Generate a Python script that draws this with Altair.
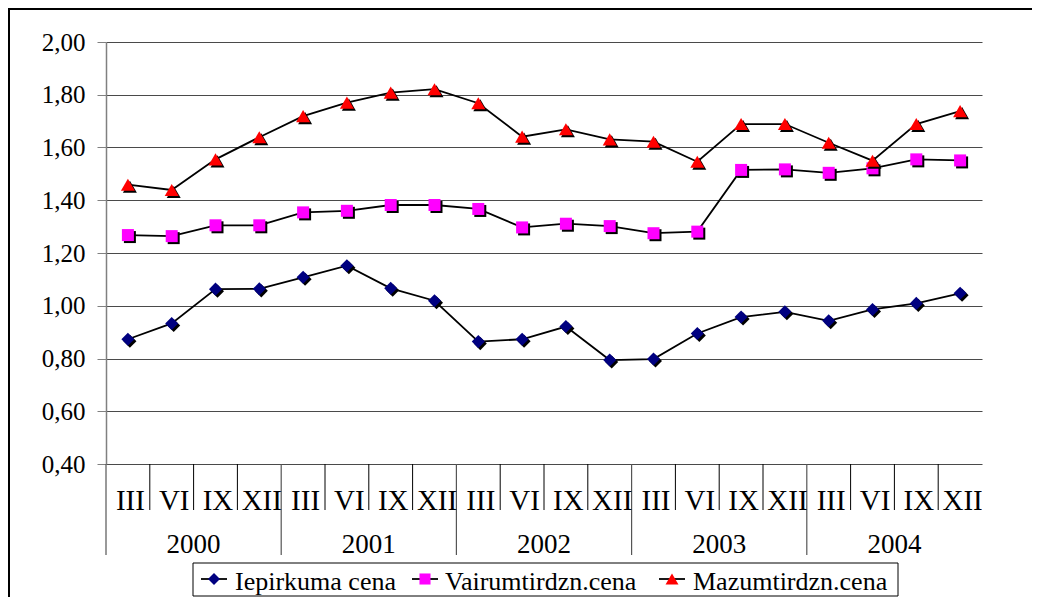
import altair as alt
import pandas as pd

years = ["2000", "2001", "2002", "2003", "2004"]
quarters = ["III", "VI", "IX", "XII"]
series_names = ["Iepirkuma cena", "Vairumtirdzn.cena", "Mazumtirdzn.cena"]

iepirkuma = [0.873, 0.933, 1.063, 1.064, 1.108, 1.152, 1.066, 1.019,
             0.864, 0.873, 0.921, 0.794, 0.798, 0.895, 0.957, 0.977,
             0.943, 0.986, 1.009, 1.047]
vairumtirdzn = [1.268, 1.264, 1.305, 1.305, 1.354, 1.360, 1.382, 1.382,
                1.367, 1.297, 1.311, 1.302, 1.275, 1.281, 1.515, 1.517,
                1.504, 1.521, 1.555, 1.551]
mazumtirdzn = [1.459, 1.439, 1.555, 1.639, 1.719, 1.770, 1.808, 1.821,
               1.768, 1.641, 1.669, 1.631, 1.622, 1.546, 1.689, 1.689,
               1.618, 1.550, 1.689, 1.738]

y_ticks = [0.4, 0.6, 0.8, 1.0, 1.2, 1.4, 1.6, 1.8, 2.0]

shapes = ["diamond", "square", "triangle-up"]
colors = ["#000080", "#FF00FF", "#FF0000"]
sizes = [170, 144, 196]

W, H = 876, 422
PAD = {"left": 98, "top": 34, "right": 50, "bottom": 133}
FONT = "Liberation Serif"

# ---- tables built from the arrays ----
all_values = [iepirkuma, vairumtirdzn, mazumtirdzn]
rows = []
for s, vals in zip(series_names, all_values):
    for k, v in enumerate(vals):
        rows.append({"series": s, "idx": k, "xpos": k + 0.5,
                     "year": years[k // len(quarters)],
                     "quarter": quarters[k % len(quarters)],
                     "value": v})
df = pd.DataFrame(rows)
n_cat = len(years) * len(quarters)

cats = pd.DataFrame({"xpos": [k + 0.5 for k in range(n_cat)],
                     "quarter": [quarters[k % 4] for k in range(n_cat)]})
bounds = pd.DataFrame({"b": list(range(n_cat))})
bounds["long"] = bounds["b"] % len(quarters) == 0
year_df = pd.DataFrame({"year": years,
                        "center": [i * len(quarters) + len(quarters) / 2 for i in range(len(years))]})
one = pd.DataFrame({"d": [0]})

xscale = alt.Scale(domain=[0, n_cat], nice=False, zero=False)
X = alt.X("xpos:Q", scale=xscale, axis=None)
Y = alt.Y("value:Q",
          scale=alt.Scale(domain=[0.4, 2.0], nice=False, zero=False),
          axis=alt.Axis(values=y_ticks, title=None, grid=True,
                        gridColor="#4a4a4a", gridWidth=1,
                        domainColor="#808080", domainWidth=1.5,
                        tickColor="#808080", tickSize=9, tickWidth=1,
                        labelFont=FONT, labelFontSize=25, labelColor="black",
                        labelPadding=12,
                        labelExpr="replace(format(datum.value, '.2f'), '.', ',')"))

layers = []

# lines
layers.append(alt.Chart(df).mark_line(color="black", strokeWidth=1.8).encode(
    x=X, y=Y, detail="series:N"))

# markers with shadows
for s, shp, col, sz in zip(series_names, shapes, colors, sizes):
    sub = df[df["series"] == s]
    layers.append(alt.Chart(sub).mark_point(
        shape=shp, size=sz, filled=True, color="black", opacity=1,
        strokeWidth=0, xOffset=2, yOffset=2).encode(x=X, y=Y))
    layers.append(alt.Chart(sub).mark_point(
        shape=shp, size=sz, filled=True, color=col, opacity=1,
        strokeWidth=0).encode(x=X, y=Y))

# category separators
layers.append(alt.Chart(bounds[~bounds["long"]]).mark_rule(color="black", strokeWidth=1).encode(
    x=alt.X("b:Q", scale=xscale, axis=None), y=alt.value(H), y2=alt.value(H + 46)))
layers.append(alt.Chart(bounds[bounds["long"]]).mark_rule(color="#555555", strokeWidth=1.2).encode(
    x=alt.X("b:Q", scale=xscale, axis=None), y=alt.value(H), y2=alt.value(H + 91)))

# quarter labels
layers.append(alt.Chart(cats).mark_text(font=FONT, fontSize=29, color="black",
                                        align="center", baseline="alphabetic", dx=2.5).encode(
    x=alt.X("xpos:Q", scale=xscale, axis=None), y=alt.value(H + 46), text="quarter:N"))

# mask clipping last label at the plot's right edge
layers.append(alt.Chart(one).mark_rect(color="white").encode(
    x=alt.value(W), x2=alt.value(W + PAD["right"]), y=alt.value(H + 2), y2=alt.value(H + 50)))

# year labels
layers.append(alt.Chart(year_df).mark_text(font=FONT, fontSize=27, color="black",
                                           align="center", baseline="alphabetic").encode(
    x=alt.X("center:Q", scale=xscale, axis=None), y=alt.value(H + 89), text="year:N"))

# legend (hand drawn)
LY = 537
layers.append(alt.Chart(one).mark_rect(fill="white", stroke="black", strokeWidth=1).encode(
    x=alt.value(87), x2=alt.value(792), y=alt.value(LY - 16), y2=alt.value(LY + 17)))
marker_x = [108, 319, 566]
text_x = [129, 339, 587]
for s, shp, col, sz, mx, tx in zip(series_names, shapes, colors, sizes, marker_x, text_x):
    layers.append(alt.Chart(one).mark_rule(color="black", strokeWidth=1.8).encode(
        x=alt.value(mx - 13), x2=alt.value(mx + 13), y=alt.value(LY)))
    layers.append(alt.Chart(one).mark_point(shape=shp, size=sz * 0.85, filled=True, color=col,
                                            opacity=1, strokeWidth=0).encode(
        x=alt.value(mx), y=alt.value(LY)))
    layers.append(alt.Chart(one).mark_text(text=s, font=FONT, fontSize=26, color="black",
                                           align="left", baseline="alphabetic").encode(
        x=alt.value(tx), y=alt.value(LY + 11)))

# outer frame (left and top edges)
layers.append(alt.Chart(one).mark_rule(color="black", strokeWidth=2).encode(
    x=alt.value(-PAD["left"] + 1), y=alt.value(-PAD["top"]), y2=alt.value(H + PAD["bottom"])))
layers.append(alt.Chart(one).mark_rule(color="black", strokeWidth=2).encode(
    x=alt.value(-PAD["left"]), x2=alt.value(W + PAD["right"]), y=alt.value(-PAD["top"] + 1)))

chart = alt.layer(*layers).properties(
    width=W, height=H,
    autosize=alt.AutoSizeParams(type="none"),
    padding=PAD,
    background="white",
).configure_view(strokeWidth=0)

chart.save("out.html", embed_options={"renderer": "svg", "actions": False})
